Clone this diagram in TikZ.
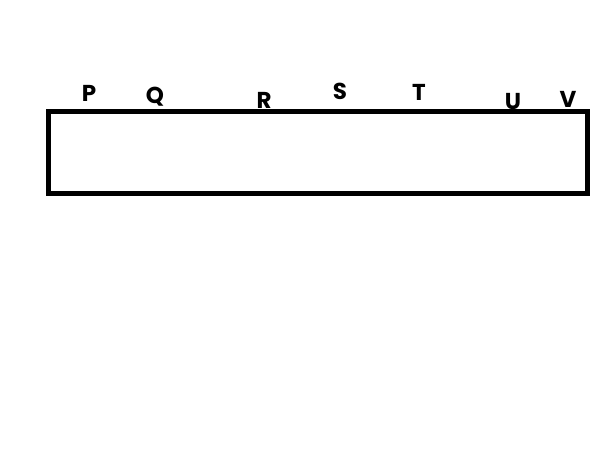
\documentclass[tikz,border=0pt]{standalone}
\usepackage{fontspec}
\setmainfont{Poppins}
\begin{document}
\begin{tikzpicture}[x=1pt, y=-1pt, lab/.style={inner sep=0pt, font=\fontsize{23}{23}\selectfont\bfseries}]
\useasboundingbox (0,0) rectangle (614,460);
\draw[line width=5pt] (48.5,111.5) rectangle (587.5,193.5);
\node[lab] (p) at (89,93) {P};
\node[lab] (q) at (155,97) {Q};
\node[lab] (r) at (264,100) {R};
\node[lab] (s) at (340,91) {S};
\node[lab] (t) at (419,92) {T};
\node[lab] (u) at (513,102) {U};
\node[lab] (v) at (568,99) {V};
\end{tikzpicture}
\end{document}
